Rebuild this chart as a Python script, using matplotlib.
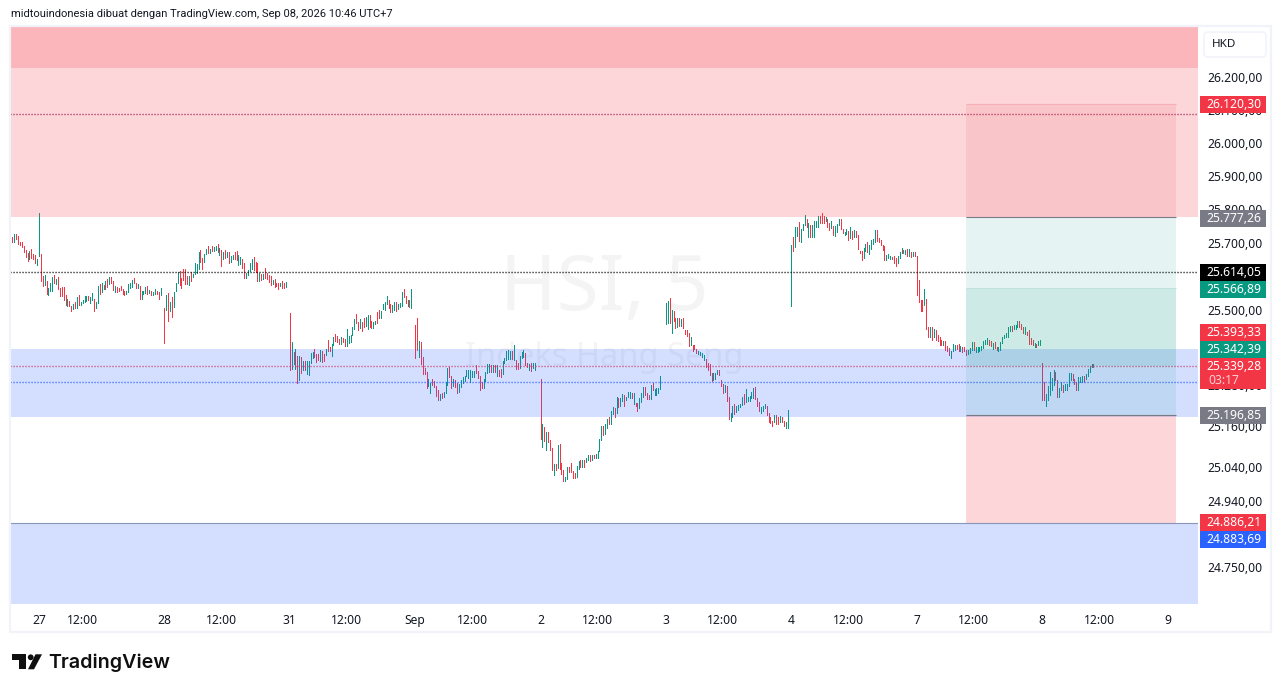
import matplotlib
matplotlib.use("Agg")
import matplotlib.pyplot as plt
from matplotlib.ticker import NullLocator
from matplotlib.patches import Rectangle, Circle, Polygon, FancyBboxPatch

# ---- bar data: high, low, direction per session ----
high_26 = [25728,25718,25727,25727,25721,25703,25702,25691,25677,25668,25674,25680,25667,25662,25650]
low_26 = [25716,25701,25701,25711,25695,25694,25686,25672,25658,25644,25652,25655,25652,25638,25632]
dir_26 = "rrgrrrrrrrgrrrg"

high_27 = [25788,25665,25602,25605,25587,25564,25580,25599,25605,25593,25599,25566,25567,25567,25543,25534,25528,25513,25519,25525,25537,25543,25525,25531,25540,25540,25540,25537,25549,25534,25525,25570,25576,25579,25573,25587,25593,25599,25599,25587,25570,25567,25564,25570,25561,25555,25555,25576,25579,25590,25596,25581,25576,25570,25555,25555,25567,25570,25558,25555,25552,25561,25555,25552,25564]
low_27 = [25660,25587,25570,25573,25546,25543,25555,25555,25579,25576,25561,25540,25540,25531,25515,25513,25513,25498,25504,25507,25507,25516,25515,25522,25525,25528,25531,25522,25531,25498,25507,25522,25546,25552,25561,25561,25569,25576,25581,25558,25552,25552,25555,25558,25546,25543,25546,25552,25564,25569,25579,25564,25564,25534,25534,25546,25551,25546,25549,25543,25543,25546,25546,25534,25543]
dir_27 = "grrgrgggrgrrrrrgrrgrgrggggrggrggrgrgrgrrgrrrrrggggrrgrgggrgrggrrg"

high_28 = [25507,25543,25549,25525,25537,25552,25581,25614,25617,25596,25623,25623,25602,25602,25614,25608,25638,25635,25671,25679,25653,25665,25682,25691,25682,25691,25688,25691,25697,25685,25679,25671,25679,25671,25671,25659,25662,25671,25674,25662,25656,25650,25638,25611,25620,25638,25650,25656,25641,25638,25611,25608,25608,25626,25611,25605,25602,25590,25593,25581,25581,25581,25587,25581,25584]
low_28 = [25403,25501,25466,25498,25480,25510,25555,25581,25573,25564,25590,25576,25576,25573,25587,25599,25608,25611,25623,25641,25623,25641,25665,25668,25668,25674,25674,25677,25671,25662,25629,25650,25653,25656,25638,25641,25650,25650,25647,25632,25635,25626,25596,25596,25605,25617,25623,25620,25614,25587,25587,25590,25593,25596,25593,25584,25573,25576,25567,25572,25561,25570,25564,25564,25567]
dir_28 = "rgrgrgggrrrrrgrggggrrggrgrggrgrgrgrggrrggrrggggrrrgrgrrrrgrrrgrrg"

high_31 = [25492,25406,25376,25385,25364,25363,25361,25349,25349,25349,25349,25373,25376,25385,25370,25370,25382,25379,25370,25385,25412,25391,25400,25421,25430,25424,25415,25421,25418,25415,25444,25424,25427,25450,25474,25489,25465,25474,25465,25477,25480,25486,25486,25468,25465,25468,25495,25501,25498,25519,25525,25542,25531,25519,25516,25525,25525,25519,25522,25554,25563,25540,25531,25531,25563]
low_31 = [25323,25325,25340,25326,25284,25293,25314,25323,25323,25311,25308,25343,25358,25361,25346,25352,25349,25346,25349,25367,25379,25379,25364,25397,25409,25406,25400,25400,25406,25394,25394,25403,25406,25427,25444,25462,25441,25447,25439,25450,25453,25444,25450,25447,25447,25459,25462,25477,25477,25504,25501,25519,25507,25495,25495,25501,25498,25504,25510,25513,25537,25522,25513,25510,25507]
dir_31 = "rgrgrgrgrggggrrrgrrgrrggrrrgrrgggggrrgrrggrrggrrggggrrggrgggrrgrg"

high_s1 = [25456,25477,25409,25406,25361,25329,25317,25296,25284,25296,25290,25275,25263,25254,25257,25260,25287,25329,25332,25305,25296,25293,25284,25281,25293,25302,25305,25323,25323,25323,25320,25320,25338,25320,25305,25287,25296,25317,25341,25341,25338,25338,25338,25338,25323,25326,25349,25358,25379,25382,25379,25379,25397,25352,25343,25364,25376,25382,25373,25343,25340,25343,25343,25343]
low_s1 = [25358,25382,25361,25340,25311,25311,25269,25275,25257,25278,25272,25248,25234,25234,25240,25243,25257,25278,25302,25269,25275,25272,25257,25260,25272,25284,25290,25305,25299,25287,25302,25302,25314,25299,25263,25269,25269,25290,25314,25317,25317,25317,25317,25305,25305,25302,25311,25343,25352,25355,25355,25355,25352,25326,25326,25329,25358,25361,25338,25332,25323,25320,25329,25323]
dir_s1 = "rrgrrrrggrrrrgrgggrrgrrgggggggggrrrrggggrgrgrrgggggrgrrgggrrgrggr"[:64]

high_s2 = [25298,25164,25156,25141,25141,25119,25095,25048,25048,25105,25108,25052,25030,25010,25039,25039,25051,25027,25021,25042,25058,25060,25060,25060,25067,25075,25075,25075,25075,25079,25085,25122,25159,25159,25164,25179,25184,25204,25216,25212,25243,25240,25240,25253,25250,25243,25260,25260,25255,25255,25225,25225,25240,25255,25273,25273,25255,25251,25278,25285,25268,25270,25270,25305]
low_s2 = [25120,25097,25115,25090,25113,25090,25030,25016,25030,25038,25035,25020,24999,24999,25006,25025,25025,25009,25009,25011,25035,25040,25040,25040,25053,25060,25058,25060,25065,25065,25065,25085,25119,25132,25136,25152,25166,25166,25194,25186,25196,25216,25219,25233,25219,25236,25243,25241,25240,25223,25217,25204,25211,25228,25243,25251,25238,25238,25238,25263,25250,25251,25255,25266]
dir_s2 = "rgrgrrrgrgrrrggrrrrggrgrggrgrggggrggrggrgrggrgggrgrrgggrrrgrgggg"[:64]

high_s3 = [25520,25527,25535,25501,25496,25477,25477,25477,25473,25477,25441,25441,25431,25421,25397,25397,25384,25380,25377,25372,25367,25355,25344,25340,25313,25313,25315,25323,25323,25293,25283,25280,25275,25245,25196,25219,25224,25219,25221,25224,25245,25253,25266,25243,25248,25258,25271,25273,25241,25228,25214,25219,25224,25219,25196,25186,25174,25192,25192,25184,25189,25186,25174,25172,25207]
low_s3 = [25458,25461,25461,25433,25466,25448,25451,25454,25454,25448,25429,25423,25394,25397,25380,25384,25374,25369,25366,25362,25352,25332,25322,25308,25291,25293,25298,25311,25308,25275,25255,25260,25233,25181,25174,25184,25194,25199,25206,25214,25221,25224,25228,25231,25233,25241,25241,25238,25219,25202,25196,25204,25212,25191,25172,25169,25159,25171,25164,25164,25172,25172,25159,25154,25154]
dir_s3 = "ggrgrrgrgrrrrgrrrggggrrrrgggrrrgrrggrggggrgggggrrrgggrrrrgrrgrrgg"[:65]

high_s4 = [25694,25716,25746,25748,25763,25742,25757,25783,25771,25760,25754,25754,25765,25765,25780,25780,25789,25780,25777,25771,25760,25765,25751,25751,25757,25771,25771,25742,25733,25742,25736,25748,25736,25739,25736,25724,25676,25676,25685,25697,25703,25694,25709,25712,25739,25739,25715,25709,25694,25691,25664,25667,25661,25658,25661,25653,25661,25673,25685,25679,25679,25682,25682,25673,25673,25673]
low_s4 = [25511,25676,25688,25721,25706,25703,25739,25752,25746,25718,25718,25718,25718,25748,25748,25760,25760,25760,25765,25748,25739,25745,25724,25721,25733,25754,25742,25730,25724,25727,25709,25715,25712,25718,25718,25682,25670,25647,25653,25676,25673,25667,25682,25697,25703,25706,25703,25694,25679,25647,25647,25653,25650,25650,25638,25629,25638,25653,25670,25670,25667,25659,25661,25656,25659,25659]
dir_s4 = "grggrgggrgrggggrrrgrrgrgggrrggrgrgrrrrggrggggrrrrrgggrrrgggrgrgrgr"[:66]

high_s7 = [25661,25590,25531,25531,25561,25534,25451,25451,25451,25445,25442,25427,25421,25412,25409,25409,25394,25387,25380,25400,25397,25397,25400,25394,25391,25391,25382,25381,25388,25406,25406,25391,25390,25392,25395,25409,25412,25418,25412,25409,25403,25406,25391,25391,25406,25421,25427,25433,25451,25454,25454,25457,25457,25466,25466,25460,25451,25451,25436,25442,25418,25412,25403,25400,25409,25412]
low_s7 = [25543,25525,25498,25498,25516,25445,25421,25421,25412,25421,25412,25409,25397,25397,25397,25382,25379,25367,25359,25379,25382,25386,25379,25379,25376,25379,25368,25371,25373,25382,25382,25377,25375,25378,25382,25388,25400,25400,25397,25394,25385,25388,25382,25380,25382,25403,25418,25421,25421,25439,25439,25445,25445,25451,25451,25445,25433,25430,25427,25400,25400,25397,25391,25391,25397,25397]
dir_s7 = "rrrrgrrgrgrrrrgrrrgggrrgrrrgggrgggggggrrgrrgggggggrgggrrrgrrrrgrgg"[:66]

high_s8 = [25344,25287,25252,25276,25317,25299,25323,25317,25293,25270,25287,25279,25282,25282,25314,25314,25311,25296,25287,25302,25302,25305,25305,25311,25326,25335,25341,25341]
low_s8 = [25234,25234,25219,25234,25249,25264,25279,25293,25243,25243,25264,25258,25264,25264,25276,25293,25293,25282,25264,25264,25287,25287,25287,25296,25305,25317,25332,25332]
dir_s8 = "rrgggggrrggrggggrrrgggrggggr"

sessions = [(high_27, low_27, dir_27), (high_28, low_28, dir_28), (high_31, low_31, dir_31),
            (high_s1, low_s1, dir_s1), (high_s2, low_s2, dir_s2), (high_s3, low_s3, dir_s3),
            (high_s4, low_s4, dir_s4), (high_s7, low_s7, dir_s7), (high_s8, low_s8, dir_s8)]
bars_per_session = 66

tick_bars = [0, 23, 66, 96, 132, 162, 198, 228, 264, 294, 330, 360, 396, 426, 462, 492, 528, 558, 594]
tick_names = ["27", "12:00", "28", "12:00", "31", "12:00", "Sep", "12:00", "2", "12:00", "3", "12:00",
              "4", "12:00", "7", "12:00", "8", "12:00", "9"]
price_ticks = [26200, 26100, 26000, 25900, 25800, 25700, 25500, 25280, 25160, 25040, 24940, 24750]
price_names = ["26.200,00", "26.100,00", "26.000,00", "25.900,00", "25.800,00", "25.700,00", "25.500,00",
               "25.280,00", "25.160,00", "25.040,00", "24.940,00", "24.750,00"]

# price levels
top_limit, bottom_limit = 26351, 24645
supply_top, supply_mid, supply_bottom = 26351, 26226, 25777
demand_top, demand_bottom = 25385, 25186
low_zone_top = 24879
target, entry_level, stop_level = 26117, 25335, 25191
mid_level = 25564
black_level, dark_level, blue_level = 25614, 26086, 25288
pos_left_bar, pos_right_bar = 487.9, 598.4

# price tags: text, fill, top px, bottom px
tags = [("26.120,30", "#f23645", 96, 113), ("25.777,26", "#787b86", 210, 227),
        ("25.614,05", "#000000", 264, 281), ("25.566,89", "#089981", 281, 298),
        ("25.393,33", "#f23645", 324, 341), ("25.342,39", "#089981", 341, 358),
        ("25.196,85", "#787b86", 407, 424), ("24.886,21", "#f23645", 514, 531),
        ("24.883,69", "#2962ff", 531, 548)]

UP, DOWN = "#089981", "#f23645"
BLUE = "#2962ff"
W, H = 1281, 692
plt.rcParams["font.family"] = ["Noto Sans", "DejaVu Sans"]
fig = plt.figure(figsize=(W / 100, H / 100), dpi=100, facecolor="white")


def fx(x):
    return x / W


def fy(y):
    return 1 - y / H


ax = fig.add_axes([fx(10), fy(604), (1198 - 10) / W, (604 - 27) / H])
ax.set_yscale("log")
ax.set_xlim(-15.26, 610)
ax.set_ylim(bottom_limit, top_limit)
for s in ax.spines.values():
    s.set_visible(False)
ax.yaxis.tick_right()
ax.set_yticks(price_ticks)
ax.set_yticklabels(price_names)
ax.yaxis.set_minor_locator(NullLocator())
ax.tick_params(axis="y", length=0, pad=7, labelsize=8.7, labelcolor="#131722")
ax.set_xticks(tick_bars)
ax.set_xticklabels(tick_names)
ax.tick_params(axis="x", length=0, pad=7, labelsize=8.7, labelcolor="#131722")
for lab in ax.get_xticklabels():
    if lab.get_text() == "Sep":
        lab.set_fontweight("bold")

# watermark
ax.text(0.5, 0.544, "HSI, 5", transform=ax.transAxes, ha="center", va="center", fontsize=55,
        color="#787b86", alpha=0.08, zorder=1)
ax.text(0.5, 0.427, "Indeks Hang Seng", transform=ax.transAxes, ha="center", va="center", fontsize=23.5,
        color="#787b86", alpha=0.08, zorder=1)

# bars
xs, los, his, cols = [], [], [], []
for j, (h, l, d) in enumerate(zip(high_26, low_26, dir_26)):
    xs.append(j - len(high_26))
    his.append(h)
    los.append(l)
    cols.append(UP if d == "g" else DOWN)
for k, (hs, ls, ds) in enumerate(sessions):
    assert len(hs) == len(ls) == len(ds), (k, len(hs), len(ls), len(ds))
    for j, (h, l, d) in enumerate(zip(hs, ls, ds)):
        xs.append(k * bars_per_session + j)
        his.append(h)
        los.append(l)
        cols.append(UP if d == "g" else DOWN)
ax.vlines(xs, los, his, colors=cols, linewidth=0.72, antialiased=False, zorder=2)

# dotted lines under the zones
dots = dict(linewidth=1.0, linestyle=(0, (0.8, 1.36)), dash_capstyle="butt")
ax.axhline(entry_level, color=DOWN, zorder=2.5, **dots)
ax.axhline(blue_level, color=BLUE, zorder=2.5, **dots)
ax.axhline(black_level, color="#000000", zorder=2.5, **dots)
ax.axhline(dark_level, color="#8e1550", zorder=2.5, **dots)

# zones
ax.axhspan(supply_bottom, supply_top, color=DOWN, alpha=0.2, lw=0, zorder=3)
ax.axhspan(supply_mid, supply_top, color=DOWN, alpha=0.2, lw=0, zorder=3)
ax.axhspan(demand_bottom, demand_top, color=BLUE, alpha=0.2, lw=0, zorder=3)
ax.axhspan(bottom_limit, low_zone_top, color=BLUE, alpha=0.2, lw=0, zorder=3)
ax.axhline(low_zone_top, color="#8a96b8", lw=0.8, zorder=4)

# position tool
w = pos_right_bar - pos_left_bar
ax.add_patch(Rectangle((pos_left_bar, supply_bottom), w, target - supply_bottom, fc=DOWN, alpha=0.1, lw=0, zorder=3.2))
ax.add_patch(Rectangle((pos_left_bar, stop_level), w, supply_bottom - stop_level, fc=UP, alpha=0.1, lw=0, zorder=3.2))
ax.add_patch(Rectangle((pos_left_bar, entry_level), w, mid_level - entry_level, fc=UP, alpha=0.1, lw=0, zorder=3.2))
ax.add_patch(Rectangle((pos_left_bar, low_zone_top), w, stop_level - low_zone_top, fc=DOWN, alpha=0.2, lw=0, zorder=3.2))
ax.hlines([supply_bottom, stop_level], pos_left_bar, pos_right_bar, color="#787b86", lw=0.8, zorder=4)
ax.hlines([target], pos_left_bar, pos_right_bar, color="#f5b0b6", lw=0.8, zorder=4)
ax.hlines([mid_level], pos_left_bar, pos_right_bar, color="#bfe3dc", lw=0.8, zorder=4)

# frame
frame_col = "#f0f3fa"
fig.add_artist(Rectangle((fx(9.5), fy(632)), (1271 - 9.5) / W, (632 - 26) / H, fc="none", ec=frame_col, lw=1.6,
                         transform=fig.transFigure))

# price tags
for txt, col, top, bot in tags:
    fig.add_artist(Rectangle((fx(1200), fy(bot)), 66 / W, (bot - top) / H, fc=col, ec="none",
                             transform=fig.transFigure, zorder=5))
    fig.text(fx(1234), fy((top + bot) / 2 + 0.3), txt, color="white", fontsize=8.7, ha="center", va="center",
             zorder=6, fontweight="medium")
fig.add_artist(Rectangle((fx(1200), fy(389)), 66 / W, 31 / H, fc=DOWN, ec="none", transform=fig.transFigure, zorder=5))
fig.text(fx(1234), fy(366), "25.339,28", color="white", fontsize=8.7, ha="center", va="center", zorder=6)
fig.text(fx(1208), fy(380), "03:17", color="#ffd0d4", fontsize=8.7, ha="left", va="center", zorder=6)

# currency button
fig.add_artist(FancyBboxPatch((1204, H - 57), 62, 25, boxstyle="round,pad=0,rounding_size=4", fc="white",
                              ec=frame_col, lw=1.1, transform=None, zorder=5))
fig.text(fx(1212), fy(44.5), "HKD", color="#131722", fontsize=8.4, ha="left", va="center", zorder=6)

# header and logo
fig.text(fx(11), fy(14), "midtouindonesia dibuat dengan TradingView.com, Sep 08, 2026 10:46 UTC+7",
         color="#131722", fontsize=8.05, ha="left", va="center", family="Roboto")
ink = "#0f0f0f"
fig.add_artist(Polygon([(fx(12.3), fy(654.3)), (fx(25.7), fy(654.3)), (fx(25.7), fy(669.3)), (fx(19.3), fy(669.3)),
                        (fx(19.3), fy(660)), (fx(12.3), fy(660))], closed=True, fc=ink, ec="none",
                       transform=fig.transFigure))
fig.add_artist(Polygon([(fx(35.5), fy(654.3)), (fx(42), fy(654.3)), (fx(34), fy(669.3)), (fx(28), fy(669.3))],
                       closed=True, fc=ink, ec="none", transform=fig.transFigure))
fig.add_artist(Circle((30.7, H - 657.3), 2.9, fc=ink, ec="none", transform=None))
fig.text(fx(48), fy(662.5), "TradingView", color=ink, fontsize=14.2, ha="left", va="center", family="Inter",
         fontweight="semibold")

fig.savefig("out.png", dpi=100, facecolor="white")
